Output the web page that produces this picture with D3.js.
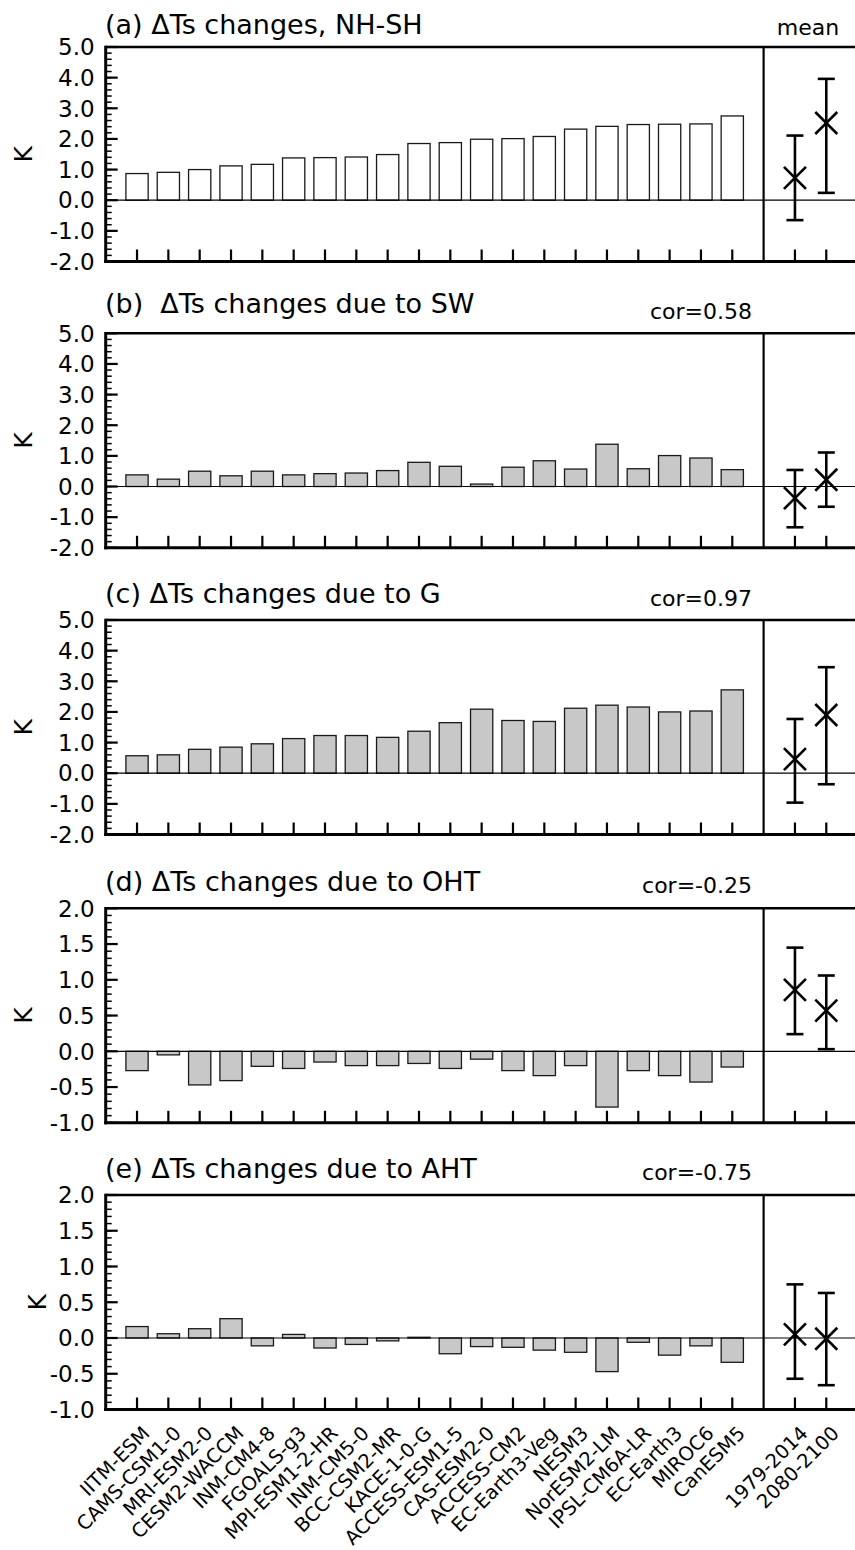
<!DOCTYPE html>
<html><head><meta charset="utf-8">
<script src="https://cdn.jsdelivr.net/npm/d3@7"></script>
<style>
body{margin:0;background:#fff;}
svg{display:block;}
text{font-family:"DejaVu Sans",sans-serif;fill:#000;white-space:pre;}
</style>
</head><body>
<svg id="chart" width="855" height="1550"></svg>
<script>
// ---------- data ----------
const models = ["IITM-ESM","CAMS-CSM1-0","MRI-ESM2-0","CESM2-WACCM","INM-CM4-8","FGOALS-g3",
  "MPI-ESM1-2-HR","INM-CM5-0","BCC-CSM2-MR","KACE-1-0-G","ACCESS-ESM1-5","CAS-ESM2-0",
  "ACCESS-CM2","EC-Earth3-Veg","NESM3","NorESM2-LM","IPSL-CM6A-LR","EC-Earth3","MIROC6","CanESM5"];
const periods = ["1979-2014","2080-2100"];

const valsA = [0.87,0.91,1.00,1.12,1.17,1.38,1.39,1.41,1.49,1.85,1.88,1.99,2.01,2.08,2.32,2.41,2.47,2.48,2.49,2.75];
const valsB = [0.38,0.24,0.50,0.35,0.50,0.38,0.42,0.44,0.52,0.79,0.66,0.08,0.63,0.84,0.57,1.38,0.58,1.01,0.93,0.55];
const valsC = [0.57,0.60,0.78,0.85,0.96,1.13,1.23,1.23,1.17,1.37,1.65,2.09,1.72,1.69,2.12,2.22,2.16,2.00,2.03,2.72];
const valsD = [-0.27,-0.05,-0.47,-0.41,-0.21,-0.24,-0.15,-0.20,-0.20,-0.17,-0.24,-0.11,-0.27,-0.34,-0.20,-0.78,-0.27,-0.34,-0.43,-0.22];
const valsE = [0.16,0.06,0.13,0.27,-0.11,0.05,-0.14,-0.09,-0.04,0.01,-0.22,-0.12,-0.13,-0.17,-0.20,-0.47,-0.06,-0.24,-0.11,-0.34];

const meanA = [0.73, 2.52], loA = [-0.65, 0.24], hiA = [2.11, 3.96];
const meanB = [-0.38, 0.22], loB = [-1.33, -0.66], hiB = [0.54, 1.11];
const meanC = [0.46, 1.90], loC = [-0.96, -0.36], hiC = [1.77, 3.46];
const meanD = [0.86, 0.57], loD = [0.24, 0.03], hiD = [1.45, 1.06];
const meanE = [0.05, -0.01], loE = [-0.57, -0.66], hiE = [0.75, 0.63];

const titles = ["(a) \u0394Ts changes, NH-SH","(b)  \u0394Ts changes due to SW","(c) \u0394Ts changes due to G",
  "(d) \u0394Ts changes due to OHT","(e) \u0394Ts changes due to AHT"];
const cors = ["", "cor=0.58", "cor=0.97", "cor=-0.25", "cor=-0.75"];
const ticksBig = [-2,-1,0,1,2,3,4,5];
const ticksSmall = [-1,-0.5,0,0.5,1,1.5,2];

// ---------- layout ----------
const svg = d3.select("#chart");
const panels = [
  {vals:valsA, mean:meanA, lo:loA, hi:hiA, top:47,    dom:[-2,5], ticks:ticksBig,   minor:0.2, fill:"#ffffff", titleY:34,  corY:0,   kx:24},
  {vals:valsB, mean:meanB, lo:loB, hi:hiB, top:333.3, dom:[-2,5], ticks:ticksBig,   minor:0.2, fill:"#c8c8c8", titleY:313, corY:319, kx:24},
  {vals:valsC, mean:meanC, lo:loC, hi:hiC, top:620,   dom:[-2,5], ticks:ticksBig,   minor:0.2, fill:"#c8c8c8", titleY:603, corY:606, kx:24},
  {vals:valsD, mean:meanD, lo:loD, hi:hiD, top:908.3, dom:[-1,2], ticks:ticksSmall, minor:0.1, fill:"#c8c8c8", titleY:891, corY:893, kx:24},
  {vals:valsE, mean:meanE, lo:loE, hi:hiE, top:1195,  dom:[-1,2], ticks:ticksSmall, minor:0.1, fill:"#c8c8c8", titleY:1178,corY:1180,kx:38}
];
const H = 214.5;
const x = d3.scaleLinear().domain([0, 24]).range([105.7, 857.6]);
const modelPos = models.map((m,i)=>i+1);
const dividerPos = models.length + 1;
const meanPos = periods.map((p,i)=>dividerPos+1+i);
const halfW = 0.355;
const fmt = v => v.toFixed(1);

panels.forEach((p, k) => {
  const y = d3.scaleLinear().domain(p.dom).range([p.top + H, p.top]);
  const g = svg.append("g");
  const x0 = x(0), x1 = x(24), yb = p.top + H;

  // bars
  g.selectAll("rect.bar").data(p.vals).join("rect")
    .attr("x", (d,i)=>x(modelPos[i]-halfW))
    .attr("width", x(1+halfW)-x(1-halfW))
    .attr("y", d=>Math.min(y(d), y(0)))
    .attr("height", d=>Math.abs(y(d)-y(0)))
    .attr("fill", p.fill).attr("stroke", "#1a1a1a").attr("stroke-width", 1.3);

  // zero line
  g.append("line").attr("x1", x0).attr("x2", x1).attr("y1", y(0)).attr("y2", y(0))
    .attr("stroke","#000").attr("stroke-width",1.2);

  // divider
  g.append("line").attr("x1", x(dividerPos)).attr("x2", x(dividerPos)).attr("y1", p.top).attr("y2", yb)
    .attr("stroke","#000").attr("stroke-width",2.2);

  // y ticks
  const minorVals = d3.range(p.dom[0], p.dom[1] + 1e-9, p.minor);
  g.selectAll("line.minor").data(minorVals).join("line")
    .attr("x1", x0).attr("x2", x0 + 6).attr("y1", d=>y(d)).attr("y2", d=>y(d))
    .attr("stroke","#000").attr("stroke-width",1.5);
  g.selectAll("line.major").data(p.ticks).join("line")
    .attr("x1", x0).attr("x2", x0 + 12).attr("y1", d=>y(d)).attr("y2", d=>y(d))
    .attr("stroke","#000").attr("stroke-width",2.2);
  g.selectAll("text.ytl").data(p.ticks).join("text")
    .attr("x", x0 - 11).attr("y", d=>y(d)).attr("dy","0.36em")
    .attr("text-anchor","end").attr("font-size",23).text(fmt);

  // x ticks
  const xt = modelPos.concat(meanPos);
  g.selectAll("line.xt").data(xt).join("line")
    .attr("x1", d=>x(d)).attr("x2", d=>x(d)).attr("y1", yb).attr("y2", yb - 12)
    .attr("stroke","#000").attr("stroke-width",2.2);

  // frame
  g.append("line").attr("x1", x0).attr("x2", x1).attr("y1", p.top).attr("y2", p.top).attr("stroke","#000").attr("stroke-width",2.6);
  g.append("line").attr("x1", x0-1.5).attr("x2", x1).attr("y1", yb).attr("y2", yb).attr("stroke","#000").attr("stroke-width",3);
  g.append("line").attr("x1", x0).attr("x2", x0).attr("y1", p.top-1.3).attr("y2", yb+1.5).attr("stroke","#000").attr("stroke-width",3);

  // means with error bars
  const capW = 8.5, xs = 11;
  p.mean.forEach((m, i) => {
    const cx = x(meanPos[i]);
    g.append("line").attr("x1",cx).attr("x2",cx).attr("y1",y(p.lo[i])).attr("y2",y(p.hi[i])).attr("stroke","#000").attr("stroke-width",2.6);
    [p.lo[i], p.hi[i]].forEach(v=>{
      g.append("line").attr("x1",cx-capW).attr("x2",cx+capW).attr("y1",y(v)).attr("y2",y(v)).attr("stroke","#000").attr("stroke-width",2.6);
    });
    const cy = y(m);
    g.append("line").attr("x1",cx-xs).attr("x2",cx+xs).attr("y1",cy-xs).attr("y2",cy+xs).attr("stroke","#000").attr("stroke-width",2.6);
    g.append("line").attr("x1",cx-xs).attr("x2",cx+xs).attr("y1",cy+xs).attr("y2",cy-xs).attr("stroke","#000").attr("stroke-width",2.6);
  });

  // titles
  g.append("text").attr("x", 105).attr("y", p.titleY).attr("font-size",27).text(titles[k]);
  if (cors[k]) g.append("text").attr("x", 752).attr("y", p.corY).attr("text-anchor","end").attr("font-size",22).text(cors[k]);
  // K label
  g.append("text").attr("transform",`translate(${p.kx + 8},${p.top + H/2}) rotate(-90)`)
    .attr("text-anchor","middle").attr("font-size",25).text("K");

  // x labels on last panel
  if (k === panels.length - 1) {
    const labs = models.concat(periods);
    g.selectAll("text.xl").data(labs).join("text")
      .attr("transform", (d,i)=>`translate(${x(xt[i]) + 9},${yb + 20}) rotate(-45)`)
      .attr("text-anchor","end").attr("dy","0.36em").attr("font-size",19.5).text(d=>d);
  }
});

svg.append("text").attr("x", 808).attr("y", 35).attr("text-anchor","middle").attr("font-size",22).text("mean");
</script>
</body></html>
